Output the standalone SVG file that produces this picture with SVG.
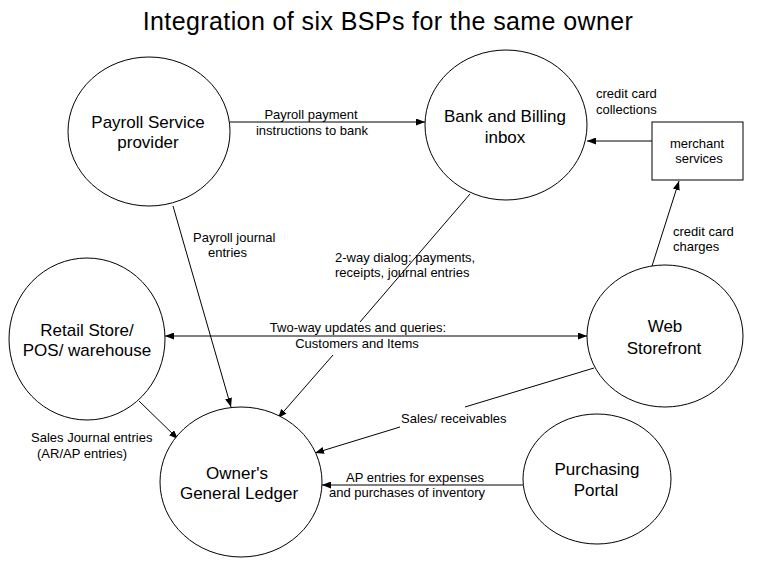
<svg xmlns="http://www.w3.org/2000/svg" width="761" height="566" viewBox="0 0 761 566">
<defs>
<marker id="arr" viewBox="0 0 9 7" refX="9" refY="3.5" markerWidth="9" markerHeight="7" markerUnits="userSpaceOnUse" orient="auto-start-reverse">
<path d="M0,0 L9,3.5 L0,7 Z" fill="#000"/>
</marker>
<style>
text{font-family:"Liberation Sans",Arial,sans-serif;fill:#000}
.node{fill:#fff;stroke:#000;stroke-width:1}
.nl{font-size:17px;text-anchor:middle}
.lb{font-size:13px}
.mid{text-anchor:middle}
.title{font-size:25px;letter-spacing:0.4px;text-anchor:middle}
.c{fill:none;stroke:#000;stroke-width:1}
</style>
</defs>
<rect width="761" height="566" fill="#fff"/>
<text class="title" x="388" y="30">Integration of six BSPs for the same owner</text>

<g id="connectors">
<path class="c" d="M230,122 L425,122" marker-end="url(#arr)"/>
<path class="c" d="M652,141 L587,141" marker-end="url(#arr)"/>
<path class="c" d="M652,266 L679,181" marker-end="url(#arr)"/>
<path class="c" d="M173,206 L231,407" marker-end="url(#arr)"/>
<path class="c" d="M470,194 L360,322 M333,355 L278,418" marker-end="url(#arr)"/>
<path class="c" d="M165,336 L587,336" marker-start="url(#arr)" marker-end="url(#arr)"/>
<path class="c" d="M139,401 L178,439" marker-end="url(#arr)"/>
<path class="c" d="M594,368 L465,407 M400,427 L315,453" marker-end="url(#arr)"/>
<path class="c" d="M523,485 L322,485" marker-end="url(#arr)"/>
<text class="lb mid" x="311" y="119">Payroll payment</text>
<text class="lb mid" x="312" y="135">instructions to bank</text>
<text class="lb" x="596" y="98">credit card</text>
<text class="lb" x="596" y="114">collections</text>
<text class="lb" x="673" y="236">credit card</text>
<text class="lb" x="673" y="251">charges</text>
<text class="lb" x="193" y="242">Payroll journal</text>
<text class="lb" x="208" y="257">entries</text>
<text class="lb" x="335" y="262">2-way dialog: payments,</text>
<text class="lb" x="335" y="277">receipts, journal entries</text>
<text class="lb mid" x="358" y="332">Two-way updates and queries:</text>
<text class="lb mid" x="357" y="348">Customers and Items</text>
<text class="lb" x="31" y="442">Sales Journal entries</text>
<text class="lb" x="37" y="458">(AR/AP entries)</text>
<text class="lb" x="401" y="423">Sales/ receivables</text>
<text class="lb mid" x="415" y="482">AP entries for expenses</text>
<text class="lb mid" x="407" y="497">and purchases of inventory</text>
</g>

<g id="payroll">
<ellipse class="node" cx="149" cy="131.5" rx="81" ry="74.5"/>
<text class="nl" x="148" y="128">Payroll Service</text>
<text class="nl" x="148" y="148">provider</text>
</g>
<g id="bank">
<ellipse class="node" cx="506" cy="125" rx="81" ry="75"/>
<text class="nl" x="505" y="122">Bank and Billing</text>
<text class="nl" x="505" y="143">inbox</text>
</g>
<g id="merchant">
<rect class="node" x="652" y="122" width="91" height="58"/>
<text class="lb mid" x="697" y="148">merchant</text>
<text class="lb mid" x="699" y="163">services</text>
</g>
<g id="retail">
<ellipse class="node" cx="87" cy="339" rx="78" ry="81"/>
<text class="nl" x="87" y="336">Retail Store/</text>
<text class="nl" x="87" y="356">POS/ warehouse</text>
</g>
<g id="web">
<ellipse class="node" cx="665" cy="336" rx="78" ry="71"/>
<text class="nl" x="665" y="332">Web</text>
<text class="nl" x="664" y="354">Storefront</text>
</g>
<g id="ledger">
<ellipse class="node" cx="241" cy="482" rx="81" ry="75"/>
<text class="nl" x="237" y="479">Owner's</text>
<text class="nl" x="239" y="499">General Ledger</text>
</g>
<g id="purchasing">
<ellipse class="node" cx="597" cy="479" rx="74" ry="65"/>
<text class="nl" x="597" y="475">Purchasing</text>
<text class="nl" x="596" y="496">Portal</text>
</g>
</svg>
